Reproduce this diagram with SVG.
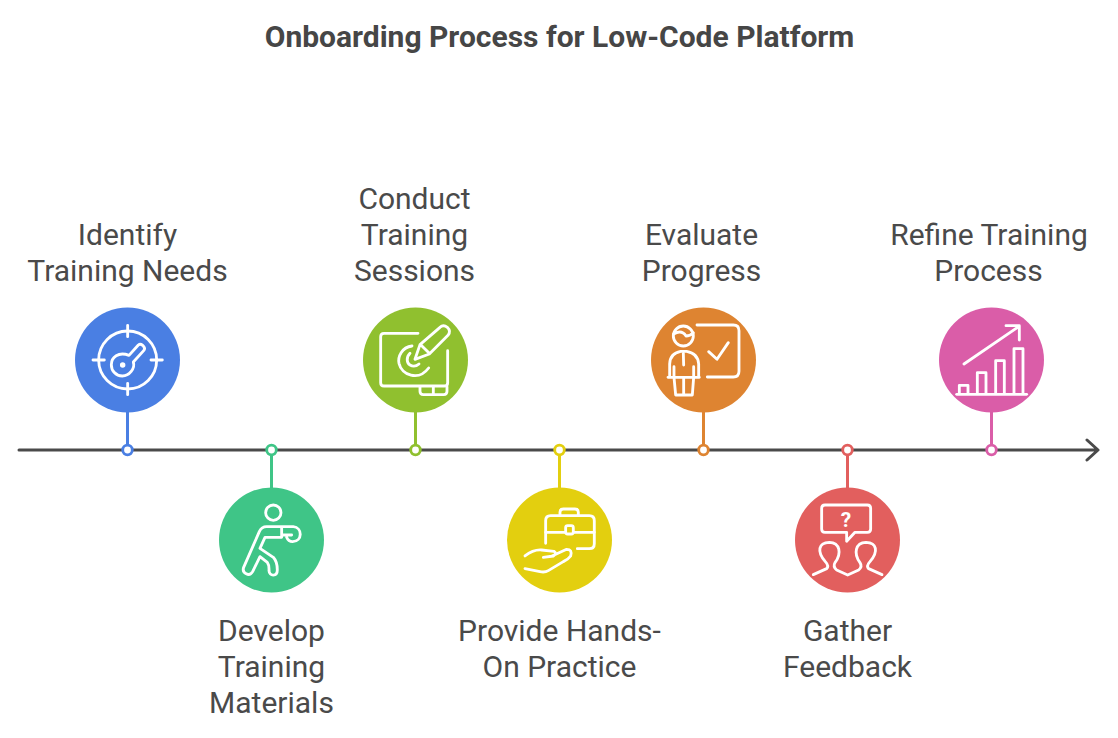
<svg xmlns="http://www.w3.org/2000/svg" width="1118" height="738" viewBox="0 0 1118 738">
<style>
.t{font-family:Roboto,"Liberation Sans",sans-serif;font-size:30px;fill:#4a4a4a;text-anchor:middle}
.h{font-family:Roboto,"Liberation Sans",sans-serif;font-size:30px;font-weight:700;fill:#464646;text-anchor:middle}
.i{fill:none;stroke:#fff;stroke-width:8.500;stroke-linecap:round;stroke-linejoin:round}
.c{stroke-width:3;fill:none}
.d{fill:#fff;stroke-width:2.800}
</style>
<rect width="1118" height="738" fill="#fff"/>
<text class="h" x="559.500" y="47">Onboarding Process for Low-Code Platform</text>
<g id="connectors">
<path d="M19 450H1097M1087 440L1098 450L1087 460" fill="none" stroke="#4a4a4a" stroke-width="3" stroke-linecap="round" stroke-linejoin="round"/>
<path class="c" stroke="#4a7fe3" d="M127.500 412V445"/>
<path class="c" stroke="#3fc587" d="M271.500 455V488"/>
<path class="c" stroke="#90c02f" d="M415.500 412V445"/>
<path class="c" stroke="#e3cf0f" d="M559.500 455V488"/>
<path class="c" stroke="#de8431" d="M703.500 412V445"/>
<path class="c" stroke="#e25f5e" d="M847.500 455V488"/>
<path class="c" stroke="#da5da8" d="M991.500 412V445"/>
<circle class="d" stroke="#4a7fe3" cx="127.500" cy="450" r="4.800"/>
<circle class="d" stroke="#3fc587" cx="271.500" cy="450" r="4.800"/>
<circle class="d" stroke="#90c02f" cx="415.500" cy="450" r="4.800"/>
<circle class="d" stroke="#e3cf0f" cx="559.500" cy="450" r="4.800"/>
<circle class="d" stroke="#de8431" cx="703.500" cy="450" r="4.800"/>
<circle class="d" stroke="#e25f5e" cx="847.500" cy="450" r="4.800"/>
<circle class="d" stroke="#da5da8" cx="991.500" cy="450" r="4.800"/>
</g>
<g id="node-identify">
<circle cx="127.500" cy="360" r="52.500" fill="#4a7fe3"/>
<g class="i" transform="translate(60 300) scale(.3333)">
<circle cx="203" cy="180" r="87"/>
<path d="M203 76V110M203 250V284M99 180H133M273 180H307"/>
<path d="M207 166L235 135Q241 130 248 136L250 138Q257 145 251 152L220 186C226 205 208 228 187 228C167 228 154 212 154 194C154 172 175 154 207 166Z"/>
<circle cx="188" cy="195" r="4"/>
</g>
<text class="t" x="127.500" y="245">Identify</text>
<text class="t" x="127.500" y="281">Training Needs</text>
</g>
<g id="node-develop">
<circle cx="271.500" cy="540" r="52.500" fill="#3fc587"/>
<g class="i" transform="translate(60 300) scale(.3333)">
<circle cx="640" cy="638" r="23"/>
<path d="M665 680H620Q605 680 598 695L551 802C545 820 568 832 578 815L600 770L622 787Q628 795 627 812C628 830 652 830 652 810Q652 785 640 772L600 745L615 712H665V680H700C728 682 728 725 698 725Q685 725 680 712M668 705H695"/>
</g>
<text class="t" x="271.500" y="641">Develop</text>
<text class="t" x="271.500" y="677">Training</text>
<text class="t" x="271.500" y="713">Materials</text>
</g>
<g id="node-conduct">
<circle cx="415.500" cy="360" r="52.500" fill="#90c02f"/>
<g class="i" transform="translate(350 300) scale(.3333)">
<path d="M204 100H102Q92 100 92 110V248Q92 258 102 258H283Q293 258 293 248V152"/>
<path d="M210 260V274Q210 284 220 284H281Q291 284 291 274V260M250 260V284"/>
<path d="M195 178L210 134L270 82Q280 72 292 82Q304 94 294 106L238 162ZM212 134L238 160"/>
<path d="M186 138C155 142 143 170 147 190C155 225 205 245 236 204"/>
<path d="M180 160C168 172 170 190 180 195C190 201 200 198 207 192"/>
</g>
<text class="t" x="414.500" y="209">Conduct</text>
<text class="t" x="414.500" y="245">Training</text>
<text class="t" x="414.500" y="281">Sessions</text>
</g>
<g id="node-provide">
<circle cx="559.500" cy="540" r="52.500" fill="#e3cf0f"/>
<g class="i" transform="translate(350 300) scale(.3333)">
<path d="M682 746H718Q733 746 733 731V662Q733 647 718 647H602Q587 647 587 662V730"/>
<path d="M587 697H646M672 697H733"/>
<rect x="647" y="677" width="23" height="25" rx="6"/>
<path d="M630 647V637Q630 627 640 627H675Q685 627 685 637V647"/>
<path d="M525 768Q550 748 575 750L612 754Q622 760 610 768L580 772M606 768L650 748Q668 748 662 768Q655 778 640 785L595 812Q585 818 570 815L525 806"/>
</g>
<text class="t" x="559.500" y="641">Provide Hands-</text>
<text class="t" x="559.500" y="677">On Practice</text>
</g>
<g id="node-evaluate">
<circle cx="703.500" cy="360" r="52.500" fill="#de8431"/>
<g class="i" transform="translate(640 300) scale(.3333)">
<circle cx="130" cy="108" r="30"/>
<path d="M101 102Q125 88 138 108Q150 108 160 98"/>
<path d="M171 75H280Q297 75 297 92V214Q297 231 280 231H202"/>
<path d="M206 155L231 178L265 128"/>
<path d="M89 230V192Q90 160 122 154H140Q174 160 176 192V230M84 232H178"/>
<path d="M102 200V232L107 285H157L161 232V200M130 160L131 195M131 235V282"/>
</g>
<text class="t" x="701.500" y="245">Evaluate</text>
<text class="t" x="701.500" y="281">Progress</text>
</g>
<g id="node-gather">
<circle cx="847.500" cy="540" r="52.500" fill="#e25f5e"/>
<g class="i" transform="translate(640 300) scale(.3333)">
<path d="M555 615H682Q692 615 692 625V687Q692 697 682 697H645L620 724V697H555Q545 697 545 687V625Q545 615 555 615Z"/>
<path d="M520 824L560 806Q568 798 556 785C530 755 535 728 568 727C600 728 606 760 585 788Q578 800 590 810L623 825L656 810Q668 800 660 788C640 760 646 728 678 727C711 728 716 755 690 785Q678 798 686 806L726 824"/>
</g>
<text x="846" y="527" font-family="Roboto,'Liberation Sans',sans-serif" font-size="21" font-weight="700" fill="#fff" text-anchor="middle">?</text>
<text class="t" x="847.500" y="641">Gather</text>
<text class="t" x="847.500" y="677">Feedback</text>
</g>
<g id="node-refine">
<circle cx="991.500" cy="360" r="52.500" fill="#da5da8"/>
<g class="i" transform="translate(920 300) scale(.3333)">
<path d="M132 192L296 80M258 77H298V120"/>
<path d="M110 283H320"/>
<path d="M118 280V256H144V280M172 280V218H198V280M227 280V182H253V280M282 280V146H309V280"/>
</g>
<text class="t" x="989" y="245">Refine Training</text>
<text class="t" x="988.500" y="281">Process</text>
</g>
</svg>
